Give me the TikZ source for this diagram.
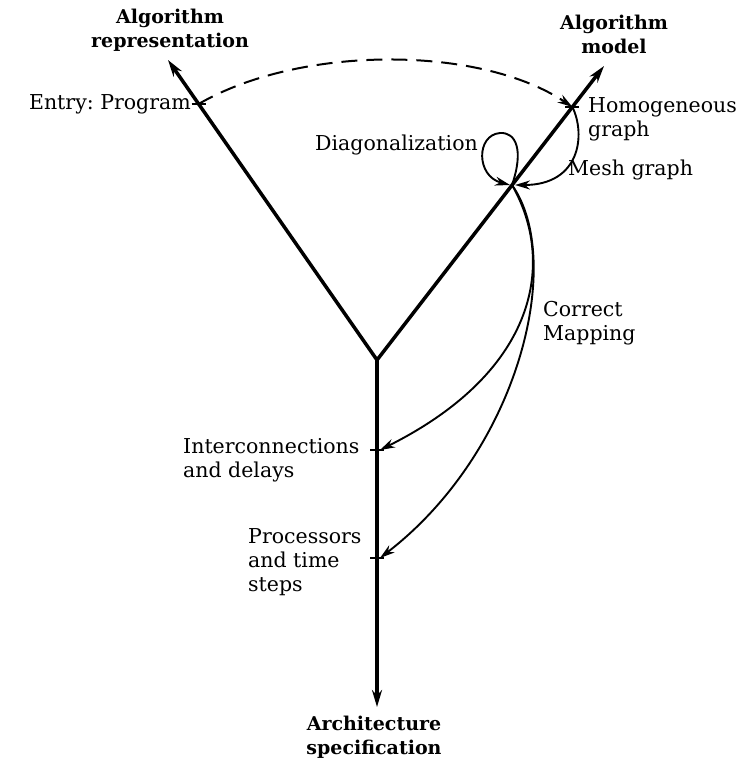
\documentclass[tikz,border=0pt]{standalone}
\usepackage{fontspec}
\setmainfont{DejaVu Serif}
\usetikzlibrary{arrows.meta}
\begin{document}
\begin{tikzpicture}[x=1pt,y=-1pt,
  axis/.style={line width=3.5pt,-{Stealth[length=17pt,width=10pt]}},
  mapping/.style={line width=1.9pt,-{Stealth[length=15pt,width=9pt]}},
  entryline/.style={line width=2pt,dash pattern=on 16pt off 9pt,-{Stealth[length=15pt,width=9pt]}},
  tickmark/.style={line width=2.2pt},
  lbl/.style={font=\fontsize{20.5}{24}\selectfont,inner sep=0pt,align=left},
  heading/.style={font=\fontsize{19}{24}\selectfont\bfseries,inner sep=0pt,align=center}]
\useasboundingbox (0,0) rectangle (736,760);

% axes meeting at the fork
\coordinate (O) at (377,360);
\coordinate (repTip) at (168,60);
\coordinate (modelTip) at (604,66);
\coordinate (archTip) at (377,707);

% marked points on the axes
\coordinate (entry) at (198.6,104);
\coordinate (hom) at (572.4,107);
\coordinate (diag) at (512,185);
\coordinate (inter) at (377,450);
\coordinate (proc) at (377,558);

\draw[axis] (O) -- (repTip);
\draw[axis] (O) -- (modelTip);
\draw[axis] (O) -- (archTip);

% tick marks
\foreach \p in {entry,hom,inter,proc}
  \draw[tickmark] ([xshift=-7pt]\p) -- ([xshift=7pt]\p);

% labels
\node[heading] (repLbl) at (170,30) {Algorithm\\representation};
\node[heading] (modelLbl) at (614,34) {Algorithm\\model};
\node[heading] (archLbl) at (374,737) {Architecture\\specification};
\node[lbl,anchor=east] (entryLbl) at (191,104) {Entry:\ Program};
\node[lbl,anchor=west] (homLbl) at (588,119) {Homogeneous\\graph};
\node[lbl,anchor=west] (meshLbl) at (568,170) {Mesh graph};
\node[lbl,anchor=east] (diagLbl) at (478,145) {Diagonalization};
\node[lbl,anchor=west] (corrLbl) at (543,323) {Correct\\Mapping};
\node[lbl,anchor=west] (interLbl) at (183,460) {Interconnections\\and delays};
\node[lbl,anchor=west] (procLbl) at (248,562) {Processors\\and time\\steps};

% transformations between the axes
\draw[entryline] (entry) .. controls (300,45) and (480,45) .. (hom);
\draw[mapping] (hom) .. controls (586,135) and (580,185) .. ([xshift=3pt]diag);
\draw[mapping] (diag) .. controls (524,150) and (516,132) .. (500,133)
  .. controls (476,135) and (476,176) .. ([xshift=-2pt]diag);
\draw[mapping] (diag) .. controls (555,260) and (540,370) .. ([xshift=3pt]inter);
\draw[mapping] (diag) .. controls (565,260) and (520,450) .. ([xshift=3pt]proc);
\end{tikzpicture}
\end{document}
